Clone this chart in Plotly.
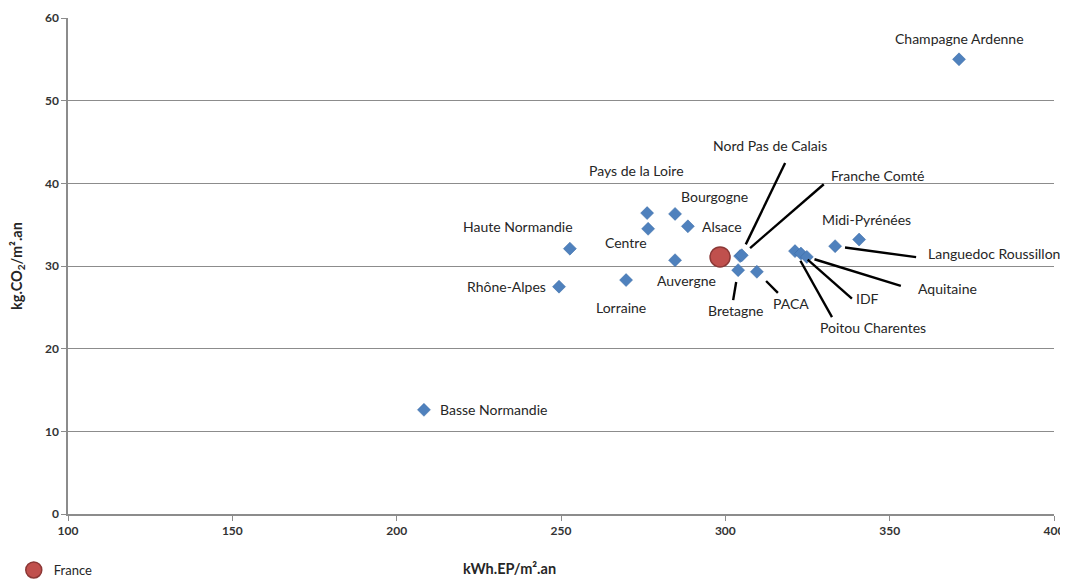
import math
import plotly.graph_objects as go

# ---- data ----
regions = ["Champagne Ardenne", "Basse Normandie", "Rhône-Alpes", "Haute Normandie",
           "Lorraine", "Centre", "Pays de la Loire", "Bourgogne", "Alsace", "Auvergne",
           "Nord Pas de Calais", "Franche Comté", "Bretagne", "PACA", "Poitou Charentes",
           "IDF", "Aquitaine", "Languedoc Roussillon", "Midi-Pyrénées"]
energy_kwh = [371.1, 208.3, 249.4, 252.7, 269.8, 276.5, 276.2, 284.7, 288.6, 284.7,
              304.5, 305.0, 303.9, 309.6, 321.2, 323.0, 324.8, 333.4, 340.7]
co2_kg = [55.0, 12.6, 27.5, 32.1, 28.3, 34.5, 36.4, 36.3, 34.8, 30.7,
          31.2, 31.3, 29.5, 29.3, 31.8, 31.5, 31.1, 32.4, 33.2]
france_name = "France"
france_energy = [298.4]
france_co2 = [31.1]
x_ticks = [100, 150, 200, 250, 300, 350, 400]
y_ticks = [0, 10, 20, 30, 40, 50, 60]
x_title = "kWh.EP/m².an"
y_title = "kg.CO<sub>2</sub>/m².an"

# ---- label styling (pixel offsets of labels / leader lines) ----
# name: (label dx, label dy, xanchor, leader (tail dx, tail dy, standoff)) ; dy positive = down
label_style = {
    "Champagne Ardenne": (0, -21, "center", None),
    "Basse Normandie": (14, 0, "left", None),
    "Rhône-Alpes": (-11, 0, "right", None),
    "Haute Normandie": (-52, -22, "center", None),
    "Lorraine": (-5, 27, "center", None),
    "Centre": (-22, 14, "center", None),
    "Pays de la Loire": (-11, -43, "center", None),
    "Bourgogne": (39, -17, "center", None),
    "Alsace": (34, 0, "center", None),
    "Auvergne": (11, 20, "center", None),
    "Nord Pas de Calais": (30, -111, "center", (45, -93, 13)),
    "Franche Comté": (136, -80, "center", (82, -71, 11)),
    "Bretagne": (-2, 40, "center", (-5, 30, 12)),
    "PACA": (34, 32, "center", (21, 21, 13)),
    "Poitou Charentes": (78, 76, "center", (37, 66, 11)),
    "IDF": (67, 45, "center", (51, 45, 9)),
    "Aquitaine": (141, 32, "center", (94, 29, 8)),
    "Languedoc Roussillon": (91, 7, "left", (81, 11, 10)),
    "Midi-Pyrénées": (7, -20, "center", None),
}

FONT = "Lato"
fig = go.Figure()

fig.add_trace(go.Scatter(
    x=energy_kwh, y=co2_kg, mode="markers", name="Régions",
    marker=dict(symbol="diamond", size=10, color="#4F81BD",
                line=dict(color="#3A6BA5", width=0.5)),
    showlegend=False, hoverinfo="text", text=regions,
))
fig.add_trace(go.Scatter(
    x=france_energy, y=france_co2, mode="markers", name=france_name,
    marker=dict(symbol="circle", size=20, color="#C0504D",
                line=dict(color="#8C3836", width=1.5)),
    showlegend=True,
))

annotations = []
shapes = []
for name, xv, yv in zip(regions, energy_kwh, co2_kg):
    dx, dy, xanchor, leader = label_style[name]
    annotations.append(dict(
        x=xv, y=yv, xref="x", yref="y", text=name, showarrow=False,
        xanchor=xanchor, yanchor="middle", xshift=dx, yshift=-dy,
        font=dict(family=FONT, size=14, color="#262626"),
    ))
    if leader is not None:
        tx, ty, so = leader
        L = math.hypot(tx, ty)
        sx, sy = tx * so / L, ty * so / L
        shapes.append(dict(
            type="line", xref="x", yref="y",
            xsizemode="pixel", ysizemode="pixel", xanchor=xv, yanchor=yv,
            x0=sx, y0=-sy, x1=tx, y1=-ty,
            line=dict(color="#000000", width=2.4),
        ))

# x-axis title (placed left of centre as in the reference)
annotations.append(dict(
    x=0.448, y=-0.129, xref="paper", yref="paper", text=x_title, showarrow=False,
    xanchor="center", yanchor="bottom", borderpad=0,
    font=dict(family=FONT, size=14.5, color="#262626", weight="bold"),
))

fig.update_layout(
    width=1060, height=571,
    margin=dict(l=60, r=14, t=10, b=65, autoexpand=False),
    paper_bgcolor="white", plot_bgcolor="white",
    font=dict(family=FONT, color="#333333"),
    annotations=annotations, shapes=shapes,
    showlegend=True,
    legend=dict(x=-0.055, y=-0.113, xanchor="left", yanchor="middle",
                font=dict(family=FONT, size=13, color="#262626"),
                bgcolor="rgba(0,0,0,0)", itemsizing="trace"),
    xaxis=dict(
        range=[100, 400], tickvals=x_ticks, showgrid=False, zeroline=False,
        showline=True, linecolor="#8c8c8c", linewidth=1.5,
        ticks="outside", ticklen=5, tickcolor="#8c8c8c",
        tickfont=dict(family=FONT, size=12, color="#333333", weight="bold"),
    ),
    yaxis=dict(
        range=[0, 60], tickvals=y_ticks, showgrid=True, gridcolor="#8c8c8c", gridwidth=1.2,
        zeroline=False, showline=True, linecolor="#8c8c8c", linewidth=1.5,
        ticks="outside", ticklen=5, tickcolor="#8c8c8c",
        tickfont=dict(family=FONT, size=12, color="#333333", weight="bold"),
        title=dict(text=y_title, standoff=20,
                   font=dict(family=FONT, size=14.5, color="#262626", weight="bold")),
    ),
)

fig.write_html("out.html")
